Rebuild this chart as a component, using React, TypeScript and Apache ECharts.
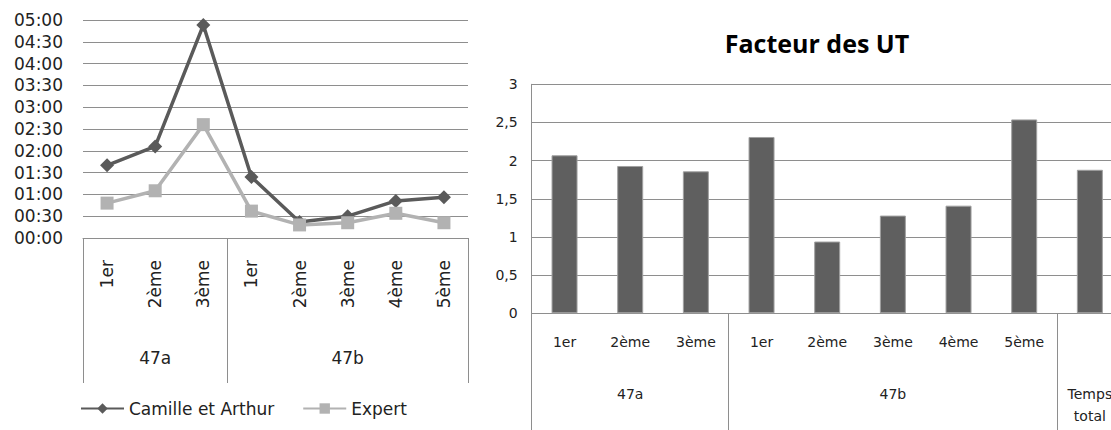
import React, { useEffect, useRef } from "react";
import * as echarts from "echarts";

const lineCategories = ["1er", "2ème", "3ème", "1er", "2ème", "3ème", "4ème", "5ème"];
const lineGroups = ["", "47a", "", "", "", "47b", "", ""];
const camilleMinutes = [100, 126, 293, 84, 22, 30, 51, 56];
const expertMinutes = [48, 65, 156, 37, 18, 21, 34, 21];

const barCategories = ["1er", "2ème", "3ème", "1er", "2ème", "3ème", "4ème", "5ème", ""];
const barGroups = ["", "47a", "", "", "", "47b", "", "", "Temps\ntotal"];
const facteurValues = [2.07, 1.93, 1.86, 2.31, 0.94, 1.28, 1.41, 2.54, 1.88];

const GRID_COLOR = "#8e8e8e";
const TEXT_COLOR = "#222";
const FONT = "DejaVu Sans";

const pad = (n: number) => (n < 10 ? "0" + n : "" + n);
const fmtTime = (v: number) => pad(Math.floor(v / 60)) + ":" + pad(Math.round(v % 60));

export default function App() {
  const ref = useRef<HTMLDivElement>(null);
  useEffect(() => {
    if (!ref.current) return;
    const chart = echarts.init(ref.current, undefined, { renderer: "svg" });
    const groupTicks = (i: number) => i === 0 || i === 3 || i === 8;
    chart.setOption({
      animation: false,
      backgroundColor: "#fff",
      title: {
        text: "Facteur des UT",
        left: 817,
        top: 30,
        textAlign: "center",
        padding: 0,
        textStyle: { fontFamily: "Open Sans", fontWeight: "bold", fontSize: 25, color: "#000" },
      },
      legend: {
        left: 80,
        top: 400,
        padding: 0,
        itemWidth: 43,
        itemHeight: 13,
        itemGap: 28,
        textStyle: { fontFamily: FONT, fontSize: 17, color: TEXT_COLOR, padding: [0, 0, 0, 0] },
        data: ["Camille et Arthur", "Expert"],
      },
      grid: [
        { left: 83, top: 20, width: 385, height: 218 },
        { left: 531.7, top: 84.3, width: 591, height: 229 },
      ],
      xAxis: [
        {
          type: "category",
          gridIndex: 0,
          data: lineCategories,
          position: "bottom",
          axisLine: { show: true, lineStyle: { color: GRID_COLOR, width: 1 } },
          axisTick: { show: true, length: 145, interval: groupTicks, lineStyle: { color: GRID_COLOR, width: 1 } },
          axisLabel: { rotate: 90, margin: 22, interval: 0, fontFamily: FONT, fontSize: 17, color: TEXT_COLOR },
        },
        {
          type: "category",
          gridIndex: 0,
          data: lineGroups,
          position: "bottom",
          axisLine: { show: false },
          axisTick: { show: false },
          axisLabel: { margin: 111, interval: 0, fontFamily: FONT, fontSize: 17, color: TEXT_COLOR },
        },
        {
          type: "category",
          gridIndex: 1,
          data: barCategories,
          position: "bottom",
          axisLine: { show: true, lineStyle: { color: GRID_COLOR, width: 1 } },
          axisTick: { show: true, length: 120, interval: groupTicks, lineStyle: { color: GRID_COLOR, width: 1 } },
          axisLabel: { margin: 22, interval: 0, fontFamily: FONT, fontSize: 14, color: TEXT_COLOR },
        },
        {
          type: "category",
          gridIndex: 1,
          data: barGroups,
          position: "bottom",
          axisLine: { show: false },
          axisTick: { show: false },
          axisLabel: { margin: 70, interval: 0, fontFamily: FONT, fontSize: 14, color: TEXT_COLOR, lineHeight: 22 },
        },
      ],
      yAxis: [
        {
          type: "value",
          gridIndex: 0,
          min: 0,
          max: 300,
          interval: 30,
          axisLine: { show: false },
          axisTick: { show: false },
          splitLine: { show: true, lineStyle: { color: GRID_COLOR, width: 1 } },
          axisLabel: { margin: 20, fontFamily: FONT, fontSize: 17, color: TEXT_COLOR, formatter: (v: number) => fmtTime(v) },
        },
        {
          type: "value",
          gridIndex: 1,
          min: 0,
          max: 3,
          interval: 0.5,
          axisLine: { show: true, lineStyle: { color: GRID_COLOR, width: 1 } },
          axisTick: { show: false },
          splitLine: { show: true, lineStyle: { color: GRID_COLOR, width: 1 } },
          axisLabel: {
            margin: 14,
            fontFamily: FONT,
            fontSize: 14,
            color: TEXT_COLOR,
            formatter: (v: number) => String(v).replace(".", ","),
          },
        },
      ],
      series: [
        {
          name: "Camille et Arthur",
          type: "line",
          xAxisIndex: 0,
          yAxisIndex: 0,
          data: camilleMinutes,
          symbol: "diamond",
          symbolSize: 14,
          lineStyle: { color: "#5a5a5a", width: 3.5 },
          itemStyle: { color: "#5a5a5a" },
          z: 3,
        },
        {
          name: "Expert",
          type: "line",
          xAxisIndex: 0,
          yAxisIndex: 0,
          data: expertMinutes,
          symbol: "rect",
          symbolSize: 13,
          lineStyle: { color: "#b2b2b2", width: 3.5 },
          itemStyle: { color: "#b2b2b2" },
          z: 4,
        },
        {
          name: "Facteur",
          type: "bar",
          xAxisIndex: 2,
          yAxisIndex: 1,
          data: facteurValues,
          barWidth: 26,
          itemStyle: { color: "#5f5f5f", borderColor: "#a0a0a0", borderWidth: 1 },
        },
      ],
    });
    return () => chart.dispose();
  }, []);
  return (
    <div style={{ position: "absolute", left: 0, top: 0, width: 1111, height: 430, overflow: "hidden", background: "#fff" }}>
      <div ref={ref} style={{ width: 1140, height: 430 }} />
    </div>
  );
}
